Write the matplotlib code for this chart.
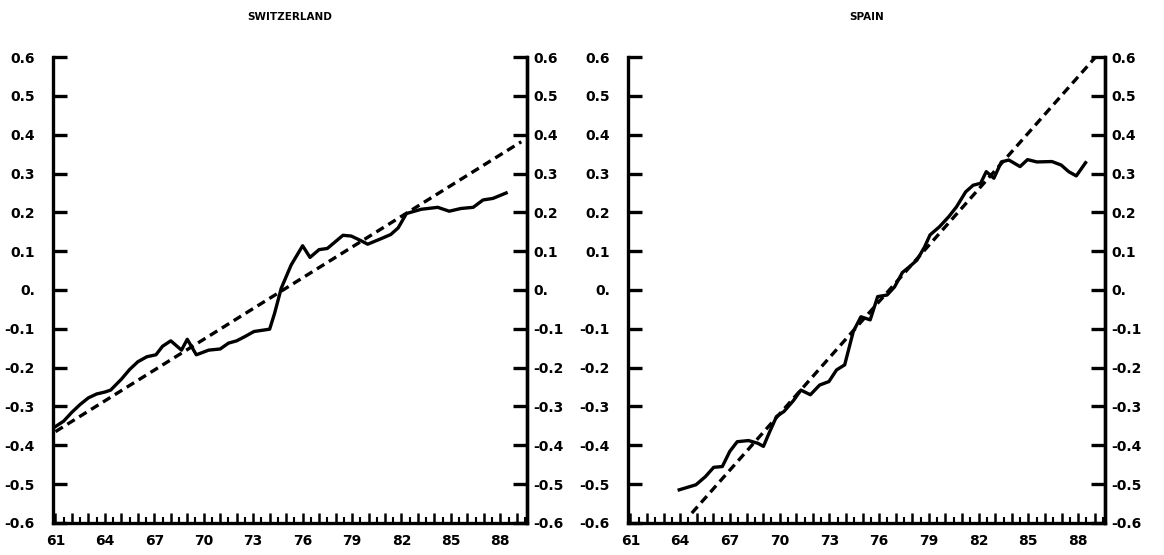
import matplotlib.pyplot as plt
from matplotlib.ticker import MultipleLocator, FuncFormatter

# Series (year, deviation from trend)
swiss_years = [61.0, 61.5, 62.0, 62.5, 63.0, 63.5, 64.0, 64.35, 65.0, 65.5, 66.0,
               66.55, 67.1, 67.5, 68.0, 68.65, 69.0, 69.55, 70.3, 71.0, 71.5,
               72.0, 72.5, 73.05, 74.0, 74.3, 74.7, 75.3, 76.0, 76.45, 77.0,
               77.5, 78.45, 78.95, 79.45, 79.95, 80.75, 81.35, 81.8, 82.3, 83.2,
               84.2, 84.9, 85.6, 86.35, 86.95, 87.55, 88.35]
swiss_values = [-0.352, -0.338, -0.315, -0.295, -0.278, -0.268, -0.263, -0.258,
                -0.230, -0.205, -0.185, -0.172, -0.167, -0.145, -0.131, -0.155,
                -0.127, -0.167, -0.155, -0.152, -0.137, -0.131, -0.120, -0.107,
                -0.101, -0.060, 0.004, 0.064, 0.114, 0.084, 0.104, 0.107,
                0.141, 0.139, 0.129, 0.118, 0.132, 0.143, 0.160, 0.197, 0.208,
                0.213, 0.203, 0.210, 0.213, 0.232, 0.236, 0.250]
swiss_trend_years = [61.0, 89.27]
swiss_trend_values = [-0.365, 0.382]

spain_years = [63.94, 64.95, 65.52, 66.02, 66.54, 66.99, 67.44, 68.12, 68.68,
               69.02, 69.36, 69.81, 70.26, 70.83, 71.28, 71.85, 72.41, 72.97,
               73.43, 73.92, 74.44, 74.9, 75.46, 75.91, 76.48, 76.93, 77.4,
               77.83, 78.28, 78.74, 79.07, 79.64, 80.2, 80.66, 81.22, 81.67,
               82.12, 82.46, 82.92, 83.37, 83.82, 84.5, 84.95, 85.51, 86.42,
               86.98, 87.43, 87.89, 88.45]
spain_values = [-0.515, -0.502, -0.481, -0.457, -0.455, -0.416, -0.391, -0.388,
                -0.395, -0.403, -0.369, -0.326, -0.313, -0.285, -0.258, -0.270,
                -0.245, -0.236, -0.206, -0.193, -0.107, -0.069, -0.077, -0.017,
                -0.013, 0.008, 0.045, 0.060, 0.077, 0.111, 0.142, 0.163, 0.189,
                0.214, 0.253, 0.270, 0.275, 0.305, 0.288, 0.330, 0.335, 0.318,
                0.336, 0.330, 0.331, 0.322, 0.305, 0.294, 0.328]
spain_trend_years = [64.7, 89.15]
spain_trend_values = [-0.575, 0.605]

y_ticks = [-0.6, -0.5, -0.4, -0.3, -0.2, -0.1, 0.0, 0.1, 0.2, 0.3, 0.4, 0.5, 0.6]
y_tick_labels = ['-0.6', '-0.5', '-0.4', '-0.3', '-0.2', '-0.1', '0.',
                 '0.1', '0.2', '0.3', '0.4', '0.5', '0.6']
first_year = 61
label_every = 3

panels = [
    ('SWITZERLAND', swiss_years, swiss_values, swiss_trend_years, swiss_trend_values),
    ('SPAIN', spain_years, spain_values, spain_trend_years, spain_trend_values),
]

plt.rcParams['font.family'] = 'DejaVu Sans'
plt.rcParams['font.weight'] = 'bold'

fig = plt.figure(figsize=(11.64, 5.55), dpi=100)
boxes = [[0.0455, 0.058, 0.407, 0.839], [0.5395, 0.058, 0.4095, 0.839]]

lw = 2.4


def year_label(x, pos):
    yr = int(round(x))
    if (yr - first_year) % label_every == 0:
        return str(yr)
    return ''


for box, (title, xs, ys, tx, ty) in zip(boxes, panels):
    ax = fig.add_axes(box)
    ax.plot(xs, ys, color='black', lw=lw, solid_joinstyle='round')
    ax.plot(tx, ty, color='black', lw=lw, dashes=(2.6, 1.6))

    ax.set_xlim(60.85, 89.6)
    ax.set_ylim(-0.6, 0.6)

    ax.spines['top'].set_visible(False)
    for s in ['left', 'right', 'bottom']:
        ax.spines[s].set_linewidth(lw)

    # x axis: years, label every third
    ax.xaxis.set_major_locator(MultipleLocator(1))
    ax.xaxis.set_minor_locator(MultipleLocator(0.5))
    ax.xaxis.set_major_formatter(FuncFormatter(year_label))
    ax.tick_params(axis='x', which='major', direction='in', length=7, width=1.8,
                   pad=8, labelsize=10)
    ax.tick_params(axis='x', which='minor', direction='in', length=4, width=1.5)

    # left y axis
    ax.set_yticks(y_ticks)
    ax.set_yticklabels(y_tick_labels)
    ax.tick_params(axis='y', direction='in', length=10, width=lw, pad=13,
                   labelsize=10)

    # right y axis with its own labels
    ax2 = ax.twinx()
    ax2.set_ylim(-0.6, 0.6)
    ax2.set_yticks(y_ticks)
    ax2.set_yticklabels(y_tick_labels)
    ax2.tick_params(axis='y', direction='in', length=10, width=lw, pad=5,
                    labelsize=10)
    for s in ['top', 'left', 'bottom']:
        ax2.spines[s].set_visible(False)
    ax2.spines['right'].set_linewidth(lw)

    ax.set_title(title, fontsize=7.5, fontweight='bold', pad=27)

fig.savefig('out.png', dpi=100)
